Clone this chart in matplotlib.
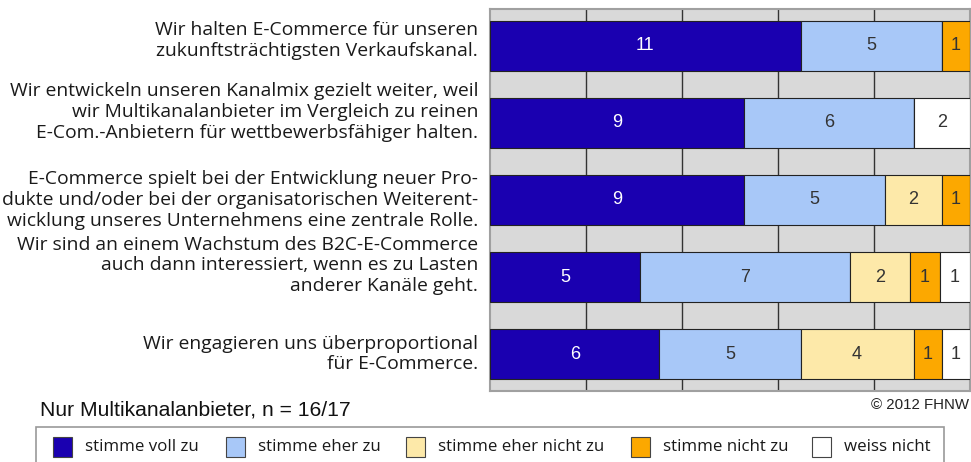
import numpy as np
import matplotlib.pyplot as plt
from matplotlib.patches import Rectangle

statements = [
    'Wir halten E-Commerce für unseren\nzukunftsträchtigsten Verkaufskanal.',
    'Wir entwickeln unseren Kanalmix gezielt weiter, weil\nwir Multikanalanbieter im Vergleich zu reinen\nE-Com.-Anbietern für wettbewerbsfähiger halten.',
    'E-Commerce spielt bei der Entwicklung neuer Pro-\ndukte und/oder bei der organisatorischen Weiterent-\nwicklung unseres Unternehmens eine zentrale Rolle.',
    'Wir sind an einem Wachstum des B2C-E-Commerce\nauch dann interessiert, wenn es zu Lasten\nanderer Kanäle geht.',
    'Wir engagieren uns überproportional\nfür E-Commerce.',
]
categories = ['stimme voll zu', 'stimme eher zu', 'stimme eher nicht zu',
              'stimme nicht zu', 'weiss nicht']
voll_zu = [11, 9, 9, 5, 6]
eher_zu = [5, 6, 5, 7, 5]
eher_nicht_zu = [0, 0, 2, 2, 4]
nicht_zu = [1, 0, 1, 1, 1]
weiss_nicht = [0, 2, 0, 1, 1]
colors = ['#1a00b0', '#a8c8f8', '#fde9a9', '#fca800', '#ffffff']
text_colors = ['white', '#333333', '#333333', '#333333', '#333333']

W, H = 971, 462
fig = plt.figure(figsize=(W / 100, H / 100), dpi=100)


def fx(x):
    return x / W


def fy(y):
    return 1 - y / H


ax = fig.add_axes([fx(490), fy(391), fx(970) - fx(490), fy(9) - fy(391)])
ax.set_facecolor('#d9d9d9')

series = np.array([voll_zu, eher_zu, eher_nicht_zu, nicht_zu, weiss_nicht])
totals = series.sum(axis=0)
pct = series / totals * 100
ypos = np.arange(len(statements))

left = np.zeros(len(statements))
for k in range(len(categories)):
    ax.barh(ypos, pct[k], left=left, height=0.65, color=colors[k],
            edgecolor='#222222', linewidth=0.8, zorder=3)
    for i in range(len(statements)):
        if series[k, i] > 0:
            ax.text(left[i] + pct[k, i] / 2, ypos[i], str(series[k, i]),
                    ha='center', va='center', fontsize=13,
                    family='Liberation Sans', color=text_colors[k], zorder=4)
    left += pct[k]

for gx in [20, 40, 60, 80]:
    ax.axvline(gx, color='#333333', linewidth=1, zorder=1)

ax.set_xlim(0, 100)
ax.set_ylim(4.48, -0.48)
ax.set_xticks([])
ax.set_yticks([])
for s in ax.spines.values():
    s.set_color('#a0a0a0')
    s.set_linewidth(1.5)

label_dy = [-0.07, -0.14, 0.0, -0.15, 0.0]
for i, txt in enumerate(statements):
    ax.text(-2.5, ypos[i] + label_dy[i], txt, ha='right', va='center',
            fontsize=13.85, family='Open Sans', color='#1a1a1a',
            linespacing=1.2, clip_on=False)

fig.text(fx(40), fy(410), 'Nur Multikanalanbieter, n = 16/17', ha='left',
         va='center', fontsize=15.2, family='Liberation Sans', color='#111111')
fig.text(fx(969), fy(405), '© 2012 FHNW', ha='right', va='center',
         fontsize=10.8, family='Liberation Sans', color='#222222')

# legend box
fig.patches.append(Rectangle((fx(36), fy(475)), fx(944) - fx(36), fy(427) - fy(475),
                             transform=fig.transFigure, facecolor='white',
                             edgecolor='#999999', linewidth=1.2))
sq_x = [53, 226, 406, 631, 812]
for k, name in enumerate(categories):
    fig.patches.append(Rectangle((fx(sq_x[k]), fy(457)), fx(19), fy(0) - fy(20),
                                 transform=fig.transFigure, facecolor=colors[k],
                                 edgecolor='#444444', linewidth=0.8))
    fig.text(fx(sq_x[k] + 32), fy(447), name, ha='left', va='center',
             fontsize=12.2, family='Open Sans', color='#1a1a1a')

fig.savefig('out.png', dpi=100)
